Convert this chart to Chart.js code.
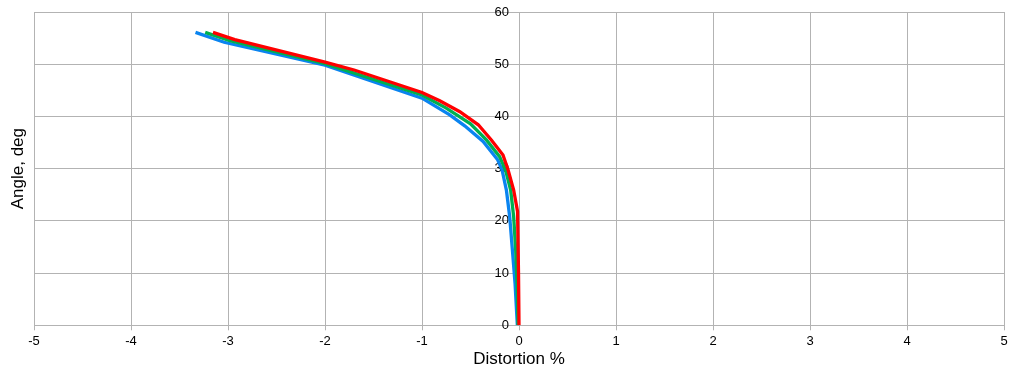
<!DOCTYPE html>
<html>
<head>
<meta charset="utf-8">
<script src="https://cdn.jsdelivr.net/npm/chart.js@4"></script>
<style>
  html, body { margin: 0; padding: 0; background: #ffffff; }
  #wrap { width: 1022px; height: 380px; }
</style>
</head>
<body>
<div id="wrap"><canvas id="c" width="1022" height="380"></canvas></div>
<script>
// Distortion (%) vs field angle (deg), three series
const redDistortion   = [0, -0.005, -0.015, -0.055, -0.113, -0.165, -0.285, -0.42, -0.61, -0.817, -1.0, -1.7, -2.0, -2.93, -3.155];
const redAngle        = [0, 10, 21.8, 25.9, 29.8, 32.6, 35.5, 38.4, 40.9, 43.0, 44.6, 48.9, 50.4, 54.7, 56.1];

const greenDistortion = [-0.01, -0.02, -0.034, -0.055, -0.086, -0.14, -0.2, -0.336, -0.5, -0.75, -1.0, -2.0, -2.98, -3.235];
const greenAngle      = [0, 8, 14.4, 20.8, 25.9, 29.8, 32.3, 35.5, 38.6, 41.6, 44.1, 50.1, 54.5, 56.1];

const blueDistortion  = [-0.017, -0.041, -0.068, -0.096, -0.13, -0.175, -0.22, -0.37, -0.56, -0.714, -1.0, -2.0, -3.04, -3.335];
const blueAngle       = [0, 8.1, 14.4, 20.8, 25.9, 29.8, 31.7, 35.2, 38.2, 40.3, 43.5, 49.8, 54.2, 56.1];

const xTicks = [-5, -4, -3, -2, -1, 0, 1, 2, 3, 4, 5];
const yTicks = [0, 10, 20, 30, 40, 50, 60];

const xTitle = 'Distortion %';
const yTitle = 'Angle, deg';

function pts(xs, ys) { return xs.map((v, i) => ({x: v, y: ys[i]})); }

const GRID = '#b3b3b3';
const FONT = 'Liberation Sans, Arial, sans-serif';

new Chart(document.getElementById('c'), {
  type: 'line',
  data: {
    datasets: [
      { label: 'red',   data: pts(redDistortion, redAngle),     borderColor: '#ff0000', backgroundColor: '#ff0000' },
      { label: 'green', data: pts(greenDistortion, greenAngle), borderColor: '#00b050', backgroundColor: '#00b050' },
      { label: 'blue',  data: pts(blueDistortion, blueAngle),   borderColor: '#0a84f0', backgroundColor: '#0a84f0' }
    ]
  },
  options: {
    responsive: false,
    animation: false,
    devicePixelRatio: 1,
    layout: { padding: { left: 0, right: 18, top: 12, bottom: 0 } },
    elements: {
      line: { borderWidth: 3.3, tension: 0, fill: false },
      point: { radius: 0, hoverRadius: 0 }
    },
    plugins: { legend: { display: false }, tooltip: { enabled: false } },
    scales: {
      x: {
        type: 'linear',
        position: 'bottom',
        min: xTicks[0], max: xTicks[xTicks.length - 1],
        afterBuildTicks: s => { s.ticks = xTicks.map(v => ({value: v})); },
        afterFit: s => { s.height = 54.7; },
        grid: { color: GRID, lineWidth: 1, drawTicks: true, tickLength: 5, tickColor: GRID },
        border: { display: true, color: GRID },
        ticks: { color: '#000000', font: { family: FONT, size: 13 }, padding: 3, maxRotation: 0 },
        title: { display: true, text: xTitle, color: '#000000', font: { family: FONT, size: 17 }, padding: { top: 2, bottom: 10 } }
      },
      y: {
        type: 'linear',
        position: { x: -0.103 },
        min: yTicks[0], max: yTicks[yTicks.length - 1],
        afterBuildTicks: s => { s.ticks = yTicks.map(v => ({value: v})); },
        grid: { color: GRID, lineWidth: 1, drawTicks: false },
        border: { display: false },
        ticks: { color: '#000000', font: { family: FONT, size: 13 }, padding: 0 }
      },
      y2: {
        type: 'linear',
        axis: 'y',
        position: 'left',
        min: yTicks[0], max: yTicks[yTicks.length - 1],
        afterFit: s => { s.width = 34; },
        grid: { display: false, drawTicks: false },
        border: { display: false },
        ticks: { display: false },
        title: { display: true, text: yTitle, color: '#000000', font: { family: FONT, size: 17 }, padding: { top: 8, bottom: 0 } }
      }
    }
  }
});
</script>
</body>
</html>
